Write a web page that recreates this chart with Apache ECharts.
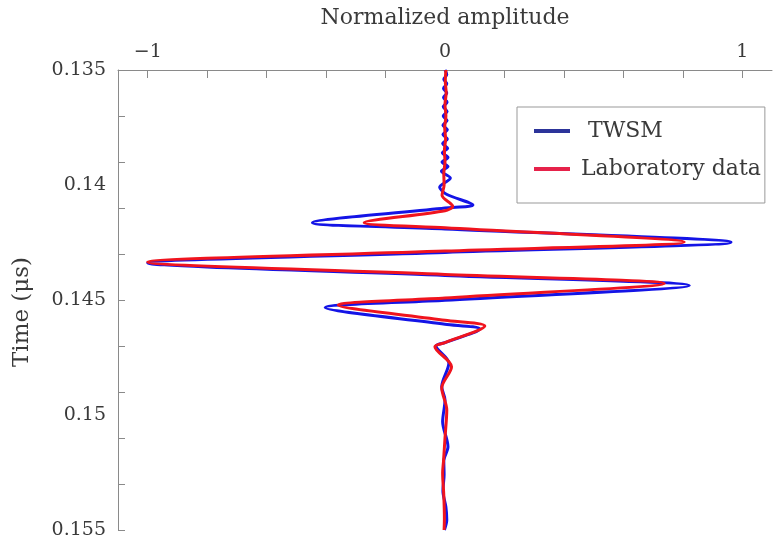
<!DOCTYPE html>
<html>
<head>
<meta charset="utf-8">
<script src="https://cdn.jsdelivr.net/npm/echarts@6/dist/echarts.min.js"></script>
<style>html,body{margin:0;padding:0;background:#fff}#c{width:776px;height:538px}</style>
</head>
<body>
<div id="c"></div>
<script>
// Time (µs) and normalized amplitude
const twsmTime = [0.1350,0.1352,0.1354,0.1356,0.1358,0.1360,0.1362,0.1364,0.1366,0.1368,0.1370,0.1372,0.1374,0.1376,0.1378,0.1380,0.1382,0.1384,0.1386,0.1388,0.1390,0.1392,0.1394,0.1397,0.1401,0.1404,0.14087,0.14100,0.14164,0.14191,0.14249,0.14293,0.14339,0.14393,0.14437,0.14501,0.14533,0.14605,0.14626,0.14685,0.14700,0.14774,0.14877,0.14935,0.15029,0.15138,0.15200,0.15260,0.15330,0.15400,0.15457,0.15500];
const twsmAmp  = [0.000,0.006,-0.004,0.006,-0.005,0.006,-0.005,0.007,-0.006,0.007,-0.006,0.007,-0.007,0.008,-0.007,0.008,-0.008,0.009,-0.009,0.010,-0.010,0.010,-0.012,0.018,-0.018,0.005,0.094,0.000,-0.446,0.000,0.962,0.000,-1.000,0.000,0.822,0.000,-0.403,0.000,0.117,0.000,-0.030,0.013,-0.011,0.000,-0.008,0.010,-0.004,-0.003,-0.007,0.003,0.006,-0.002];
const labTime  = [0.1350,0.1355,0.1360,0.1365,0.1370,0.1375,0.1380,0.1385,0.1390,0.1395,0.1400,0.14045,0.14093,0.14112,0.14164,0.14186,0.14248,0.14287,0.14335,0.14389,0.14428,0.14491,0.14522,0.14588,0.14613,0.14685,0.14703,0.14790,0.14883,0.14978,0.15100,0.15200,0.15252,0.15350,0.15450,0.15500];
const labAmp   = [0.003,0.001,0.004,0.000,0.003,-0.001,0.002,-0.002,0.000,-0.004,-0.003,-0.010,0.026,0.000,-0.272,0.000,0.805,0.000,-1.000,0.000,0.738,0.000,-0.359,0.000,0.134,0.000,-0.034,0.022,-0.011,0.006,0.000,-0.005,-0.008,-0.004,-0.002,-0.003];
const xTickValues  = [-1,-0.8,-0.6,-0.4,-0.2,0,0.2,0.4,0.6,0.8,1];
const xLabelValues = [-1,0,1];
const yTickValues  = [0.135,0.137,0.139,0.141,0.143,0.145,0.147,0.149,0.151,0.153,0.155];
const yLabelValues = [0.135,0.14,0.145,0.15,0.155];
const seriesNames = ['TWSM','Laboratory data'];

const FONT = 'DejaVu Serif';
const axisGray = '#8a8a8a';
const textCol = '#3a3a3a';

const chart = echarts.init(document.getElementById('c'), null, {renderer:'canvas'});
chart.setOption({
  backgroundColor:'#fff',
  animation:false,
  grid:{left:118, top:70, right:4, bottom:8, containLabel:false, outerBoundsMode:'none'},
  legend:{
    orient:'vertical', left:517, top:107,
    backgroundColor:'#fff', borderColor:'#999', borderWidth:1,
    padding:[12,4,22,17], itemGap:14, itemWidth:36, itemHeight:4, icon:'rect',
    textStyle:{fontFamily:FONT, fontSize:22, color:textCol, lineHeight:24, padding:[0,0,0,6]},
    formatter: n => n === 'TWSM' ? ' ' + n : n,
    data:[{name:seriesNames[0], itemStyle:{color:'#2c349a'}},{name:seriesNames[1], itemStyle:{color:'#e6224a'}}]
  },
  xAxis:{
    type:'value', position:'top', min:-1.1, max:1.1,
    name:'Normalized amplitude', nameLocation:'middle', nameGap:41,
    nameTextStyle:{fontFamily:FONT, fontSize:22, color:textCol},
    axisLine:{show:true, onZero:false, lineStyle:{color:axisGray, width:1}},
    axisTick:{show:true, inside:true, length:8, customValues:xTickValues, lineStyle:{color:axisGray}},
    axisLabel:{show:true, customValues:xLabelValues, margin:8, fontFamily:FONT, fontSize:19, color:textCol,
      formatter: v => v < 0 ? '\u2212' + Math.abs(v) : String(v)},
    splitLine:{show:false}
  },
  yAxis:{
    type:'value', inverse:true, min:0.135, max:0.155,
    name:'Time (\u03bcs)', nameLocation:'middle', nameGap:84, nameRotate:90,
    nameTextStyle:{fontFamily:FONT, fontSize:23, color:textCol, padding:[0,24,0,0]},
    axisLine:{show:true, onZero:false, lineStyle:{color:axisGray, width:1}},
    axisTick:{show:true, inside:true, length:7, customValues:yTickValues, lineStyle:{color:axisGray}},
    axisLabel:{show:true, customValues:yLabelValues, margin:12, fontFamily:FONT, fontSize:19, color:textCol,
      formatter: v => String(+v.toFixed(3))},
    splitLine:{show:false}
  },
  series:[
    {name:seriesNames[0], type:'line', smooth:0.3, showSymbol:false, symbol:'none',
     lineStyle:{color:'#1414e6', width:3}, itemStyle:{color:'#1414e6'},
     data: twsmTime.map((t,i)=>[twsmAmp[i], t])},
    {name:seriesNames[1], type:'line', smooth:0.3, showSymbol:false, symbol:'none',
     lineStyle:{color:'#f0141e', width:3}, itemStyle:{color:'#f0141e'},
     data: labTime.map((t,i)=>[labAmp[i], t])}
  ]
});
</script>
</body>
</html>
